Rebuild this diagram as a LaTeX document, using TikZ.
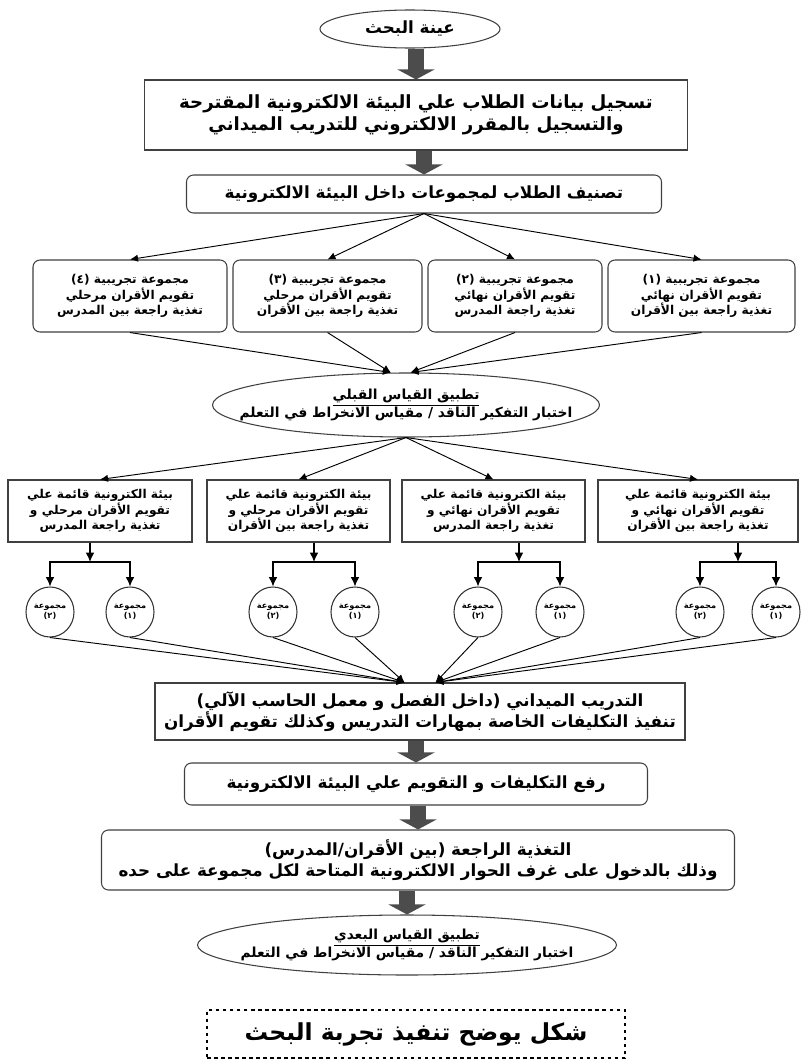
\documentclass[tikz,border=0pt]{standalone}
\usepackage{fontspec}
\newfontfamily\arabicfont[Script=Arabic]{DejaVu Sans}
\TeXXeTstate=1
\usepackage{tikz}
\usetikzlibrary{arrows.meta, shapes.geometric, calc}
\tikzset{
    boxSharp/.style={rectangle, draw=black!75, line width=0.9pt, align=center, inner sep=2pt},
    boxRound/.style={boxSharp, rounded corners=6pt},
    ovalNode/.style={ellipse, draw=black!75, line width=0.9pt, align=center, inner ysep=0pt, inner xsep=-40pt},
    groupCircle/.style={ellipse, draw=black!80, line width=0.9pt, align=center, inner sep=0pt, minimum width=1.44cm, minimum height=1.5cm, font=\arabicfont\bfseries\fontsize{7}{8.5}\selectfont},
    txtBig/.style={font=\arabicfont\bfseries\fontsize{15.5}{19}\selectfont},
    txtLarge/.style={font=\arabicfont\bfseries\fontsize{14.3}{17.5}\selectfont},
    txtMed/.style={font=\arabicfont\bfseries\fontsize{11.8}{15}\selectfont},
    txtSmall/.style={font=\arabicfont\bfseries\fontsize{10.4}{13.5}\selectfont},
    bigArrow/.style={line width=0.5cm, draw=black!70, -{Triangle[length=0.3cm, width=1.1cm]}},
    thinArrow/.style={-{Latex[length=2.4mm, width=2.2mm]}, line width=0.8pt},
    stubArrow/.style={-{Latex[length=2.8mm, width=2.6mm]}, line width=1.1pt},
}
\newcommand{\artxt}[1]{\beginR #1\endR}
\newcommand{\bigLink}[2]{
    \draw[bigArrow] (#2.north |- #1.south) -- (#2.north);
}
\newcommand{\drawSplit}[4]{
    % stub to the bar, then down to both circles
    \draw[stubArrow] (#1.south -| #2) -- (#2);
    \draw[stubArrow] (#2) -| (#3.north);
    \draw[stubArrow] (#2) -| (#4.north);
}

\begin{document}
\begin{tikzpicture}[x=0.03cm, y=-0.03cm]
    \fill[white] (0,0) rectangle (800,1062);
    \useasboundingbox (0,0) rectangle (800,1062);

    \node[ovalNode, txtLarge, minimum width=5.4cm, minimum height=1.14cm] (S) at (410,29) {\artxt{عينة البحث}};
    \node[boxSharp, txtBig, minimum width=16.29cm, minimum height=2.1cm] (R) at (416,115)
        {\artxt{تسجيل بيانات الطلاب علي البيئة الالكترونية المقترحة}\\ \artxt{والتسجيل بالمقرر الالكتروني للتدريب الميداني}};
    \node[boxRound, txtLarge, minimum width=14.25cm, minimum height=1.14cm] (K) at (424,194)
        {\artxt{تصنيف الطلاب لمجموعات داخل البيئة الالكترونية}};

    \node[boxRound, txtSmall, minimum width=5.61cm, minimum height=2.16cm] (G1) at (701.5,296)
        {\artxt{مجموعة تجريبية (١)}\\ \artxt{تقويم الأقران نهائي}\\ \artxt{تغذية راجعة بين الأقران}};
    \node[boxRound, txtSmall, minimum width=5.22cm, minimum height=2.16cm] (G2) at (515,296)
        {\artxt{مجموعة تجريبية (٢)}\\ \artxt{تقويم الأقران نهائي}\\ \artxt{تغذية راجعة المدرس}};
    \node[boxRound, txtSmall, minimum width=5.67cm, minimum height=2.16cm] (G3) at (327.5,296)
        {\artxt{مجموعة تجريبية (٣)}\\ \artxt{تقويم الأقران مرحلي}\\ \artxt{تغذية راجعة بين الأقران}};
    \node[boxRound, txtSmall, minimum width=5.82cm, minimum height=2.16cm] (G4) at (130,296)
        {\artxt{مجموعة تجريبية (٤)}\\ \artxt{تقويم الأقران مرحلي}\\ \artxt{تغذية راجعة بين المدرس}};

    \node[ovalNode, txtMed, minimum width=11.61cm, minimum height=1.92cm] (P) at (406,405)
        {\underline{\artxt{تطبيق القياس القبلي}}\\ \artxt{اختبار التفكير الناقد / مقياس الانخراط في التعلم}};

    \node[boxSharp, txtSmall, minimum width=6cm, minimum height=1.86cm] (E1) at (698,511)
        {\artxt{بيئة الكترونية قائمة علي}\\ \artxt{تقويم الأقران نهائي و}\\ \artxt{تغذية راجعة بين الأقران}};
    \node[boxSharp, txtSmall, minimum width=5.49cm, minimum height=1.86cm] (E2) at (493.5,511)
        {\artxt{بيئة الكترونية قائمة علي}\\ \artxt{تقويم الأقران نهائي و}\\ \artxt{تغذية راجعة المدرس}};
    \node[boxSharp, txtSmall, minimum width=5.49cm, minimum height=1.86cm] (E3) at (298.5,511)
        {\artxt{بيئة الكترونية قائمة علي}\\ \artxt{تقويم الأقران مرحلي و}\\ \artxt{تغذية راجعة بين الأقران}};
    \node[boxSharp, txtSmall, minimum width=5.52cm, minimum height=1.86cm] (E4) at (100,511)
        {\artxt{بيئة الكترونية قائمة علي}\\ \artxt{تقويم الأقران مرحلي و}\\ \artxt{تغذية راجعة المدرس}};

    \coordinate (J1) at (738,562);
    \coordinate (J2) at (519,562);
    \coordinate (J3) at (314,562);
    \coordinate (J4) at (90,562);
    \node[groupCircle] (E1L) at (700,612) {\artxt{مجموعة}\\ \artxt{(٢)}};
    \node[groupCircle] (E1R) at (776,612) {\artxt{مجموعة}\\ \artxt{(١)}};
    \node[groupCircle] (E2L) at (478,612) {\artxt{مجموعة}\\ \artxt{(٢)}};
    \node[groupCircle] (E2R) at (560,612) {\artxt{مجموعة}\\ \artxt{(١)}};
    \node[groupCircle] (E3L) at (273,612) {\artxt{مجموعة}\\ \artxt{(٢)}};
    \node[groupCircle] (E3R) at (355,612) {\artxt{مجموعة}\\ \artxt{(١)}};
    \node[groupCircle] (E4L) at (50,612) {\artxt{مجموعة}\\ \artxt{(٢)}};
    \node[groupCircle] (E4R) at (130,612) {\artxt{مجموعة}\\ \artxt{(١)}};

    \node[boxSharp, txtLarge, minimum width=15.9cm, minimum height=1.71cm] (T) at (420,711.5)
        {\artxt{التدريب الميداني (داخل الفصل و معمل الحاسب الآلي)}\\ \artxt{تنفيذ التكليفات الخاصة بمهارات التدريس وكذلك تقويم الأقران}};
    \node[boxRound, txtLarge, minimum width=13.89cm, minimum height=1.26cm] (U) at (416,784)
        {\artxt{رفع التكليفات و التقويم علي البيئة الالكترونية}};
    \node[boxRound, txtLarge, minimum width=18.99cm, minimum height=1.8cm] (B) at (418,860)
        {\artxt{التغذية الراجعة (بين الأقران/المدرس)}\\ \artxt{وذلك بالدخول على غرف الحوار الالكترونية المتاحة لكل مجموعة على حده}};
    \node[ovalNode, txtMed, minimum width=12.57cm, minimum height=1.8cm] (Q) at (407,945)
        {\underline{\artxt{تطبيق القياس البعدي}}\\ \artxt{اختبار التفكير الناقد / مقياس الانخراط في التعلم}};

    \node[draw, dashed, line width=1pt, minimum width=12.54cm, minimum height=1.44cm, font=\arabicfont\bfseries\fontsize{20}{24}\selectfont] (F) at (416,1034)
        {\artxt{شكل يوضح تنفيذ تجربة البحث}};

    \bigLink{S}{R}
    \bigLink{R}{K}
    \bigLink{T}{U}
    \bigLink{U}{B}
    \bigLink{B}{Q}

    \foreach \g in {G1,G2,G3,G4}
        \draw[thinArrow] (K.south) -- (\g.north);
    \draw[thinArrow] (G4.south) -- (P.115);
    \draw[thinArrow] (G3.south) -- (P.115);
    \draw[thinArrow] (G2.south) -- (P.82);
    \draw[thinArrow] (G1.south) -- (P.82);

    \foreach \e in {E1,E2,E3,E4}
        \draw[thinArrow] (P.south) -- (\e.north);
    \drawSplit{E1}{J1}{E1L}{E1R}
    \drawSplit{E2}{J2}{E2L}{E2R}
    \drawSplit{E3}{J3}{E3L}{E3R}
    \drawSplit{E4}{J4}{E4L}{E4R}

    \foreach \c in {E4L,E4R,E3L,E3R}
        \draw[thinArrow] (\c.south) -- (T.118);
    \foreach \c in {E2L,E2R,E1L,E1R}
        \draw[thinArrow] (\c.south) -- (T.62);

\end{tikzpicture}
\end{document}
